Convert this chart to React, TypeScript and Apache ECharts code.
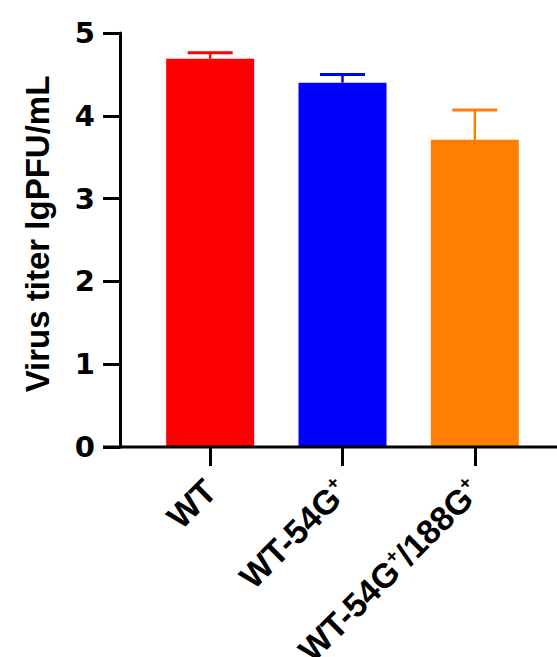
import React, { useEffect, useRef } from "react";
import * as echarts from "echarts";

const categories = ["WT", "WT-54G{sup|+}", "WT-54G{sup|+}/188G{sup|+}"];
const means = [4.69, 4.4, 3.71];
const sems = [0.07, 0.1, 0.36];
const colors = ["#FF0000", "#0000FF", "#FF8000"];
const yTicks = [0, 1, 2, 3, 4, 5];

export default function App() {
  const ref = useRef<HTMLDivElement>(null);
  useEffect(() => {
    const chart = echarts.init(ref.current!, null, { renderer: "svg" });
    const font = "'Liberation Sans', Arial, sans-serif";
    const wide = "'DejaVu Sans', sans-serif";
    chart.setOption({
      animation: false,
      grid: { left: 144, right: 16, top: 33, bottom: 210, containLabel: false, outerBoundsMode: "none" },
      xAxis: {
        type: "category",
        data: categories,
        axisLine: { show: false },
        axisTick: { show: true, alignWithLabel: true, length: 19, lineStyle: { color: "#000", width: 3 } },
        axisLabel: {
          rotate: 45,
          margin: 38,
          fontSize: 34,
          fontWeight: "bold",
          fontFamily: font,
          color: "#000",
          rich: {
            sup: { fontSize: 19, fontWeight: "bold", fontFamily: font, color: "#000", padding: [0, 0, 17, 0] },
          },
        },
      },
      yAxis: {
        type: "value",
        min: yTicks[0],
        max: yTicks[yTicks.length - 1],
        interval: 1,
        offset: 24,
        splitLine: { show: false },
        axisLine: { show: true, lineStyle: { color: "#000", width: 3 } },
        axisTick: { show: true, length: 17, lineStyle: { color: "#000", width: 3 } },
        axisLabel: { margin: 25, fontSize: 29, fontWeight: "bold", fontFamily: wide, color: "#000" },
        name: "Virus titer lgPFU/mL",
        nameLocation: "middle",
        nameGap: 66,
        nameTextStyle: { fontSize: 33, fontWeight: "bold", fontFamily: font, color: "#000", padding: [0, 0, 0, 12] },
      },
      graphic: [
        {
          type: "line",
          shape: { x1: 103, y1: 447, x2: 557, y2: 447 },
          style: { stroke: "#000", lineWidth: 3 },
          z: 10,
        },
      ],
      series: [
        {
          type: "bar",
          barWidth: 88,
          data: means.map((v, i) => ({ value: v, itemStyle: { color: colors[i] } })),
        },
        {
          type: "custom",
          data: means.map((v, i) => [i, v, sems[i]]),
          renderItem: (params: any, api: any) => {
            const i = api.value(0);
            const m = api.value(1);
            const e = api.value(2);
            const top = api.coord([i, m + e]);
            const base = api.coord([i, m]);
            const half = api.size([1, 0])[0] * 0.17;
            const c = colors[params.dataIndex];
            return {
              type: "group",
              children: [
                { type: "line", shape: { x1: top[0], y1: base[1], x2: top[0], y2: top[1] }, style: { stroke: c, lineWidth: 2.5 } },
                { type: "line", shape: { x1: top[0] - half, y1: top[1], x2: top[0] + half, y2: top[1] }, style: { stroke: c, lineWidth: 3 } },
              ],
            };
          },
          z: 3,
        },
      ],
    });
    return () => chart.dispose();
  }, []);
  return <div ref={ref} style={{ position: "absolute", left: 0, top: 0, width: 557, height: 657 }} />;
}
